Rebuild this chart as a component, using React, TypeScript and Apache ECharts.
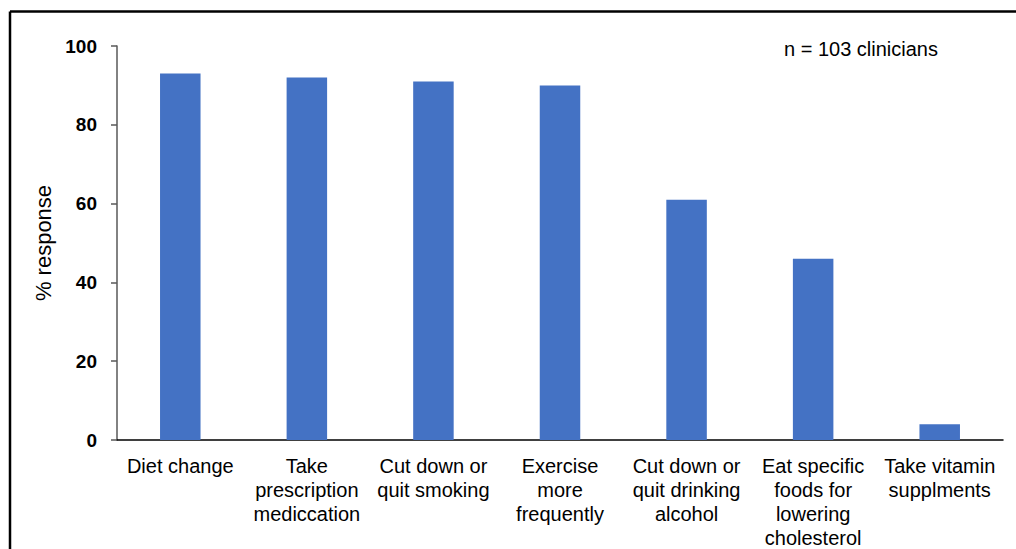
import React, { useEffect, useRef } from "react";
import * as echarts from "echarts";

const categories = [
  "Diet change",
  "Take\nprescription\nmediccation",
  "Cut down or\nquit smoking",
  "Exercise\nmore\nfrequently",
  "Cut down or\nquit drinking\nalcohol",
  "Eat specific\nfoods for\nlowering\ncholesterol",
  "Take vitamin\nsupplments",
];
const values = [93, 92, 91, 90, 61, 46, 4];
const yTicks = [0, 20, 40, 60, 80, 100];
const annotation = "n = 103 clinicians";
const yAxisName = "% response";

export default function App() {
  const ref = useRef<HTMLDivElement>(null);
  useEffect(() => {
    if (!ref.current) return;
    const chart = echarts.init(ref.current, undefined, { renderer: "svg" });
    const font = "'Liberation Sans', Arial, sans-serif";
    chart.setOption({
      animation: false,
      backgroundColor: "#ffffff",
      grid: {
        left: 117,
        top: 46,
        right: 13,
        bottom: 109,
        containLabel: false,
        outerBoundsMode: "none",
      },
      xAxis: {
        type: "category",
        data: categories,
        axisLine: { show: true, lineStyle: { color: "#000000", width: 1.5 } },
        axisTick: { show: false },
        axisLabel: {
          interval: 0,
          color: "#000000",
          fontFamily: font,
          fontSize: 20,
          lineHeight: 24,
          margin: 14,
          align: "center",
        },
      },
      yAxis: {
        type: "value",
        min: yTicks[0],
        max: yTicks[yTicks.length - 1],
        interval: 20,
        name: yAxisName,
        nameLocation: "middle",
        nameGap: 63,
        nameRotate: 90,
        nameTextStyle: { color: "#000000", fontFamily: font, fontSize: 22 },
        axisLine: { show: true, lineStyle: { color: "#595959", width: 1.5 } },
        axisTick: { show: true, length: 6, lineStyle: { color: "#595959", width: 1.5 } },
        splitLine: { show: false },
        axisLabel: {
          color: "#000000",
          fontFamily: font,
          fontSize: 19,
          fontWeight: "bold",
          margin: 20,
        },
      },
      series: [
        {
          type: "bar",
          data: values,
          barWidth: "32%",
          itemStyle: { color: "#4472C4" },
        },
      ],
      graphic: [
        {
          type: "text",
          left: 784,
          top: 39,
          style: {
            text: annotation,
            fill: "#000000",
            font: `20px ${font}`,
          },
        },
        {
          type: "line",
          shape: { x1: 10, y1: 11.5, x2: 1016, y2: 11.5 },
          style: { stroke: "#000000", lineWidth: 2.5 },
        },
        {
          type: "line",
          shape: { x1: 10, y1: 11.5, x2: 10, y2: 549 },
          style: { stroke: "#000000", lineWidth: 2.5 },
        },
      ],
    });
    return () => chart.dispose();
  }, []);
  return (
    <div
      ref={ref}
      style={{ position: "fixed", left: 0, top: 0, width: 1016, height: 549 }}
    />
  );
}
